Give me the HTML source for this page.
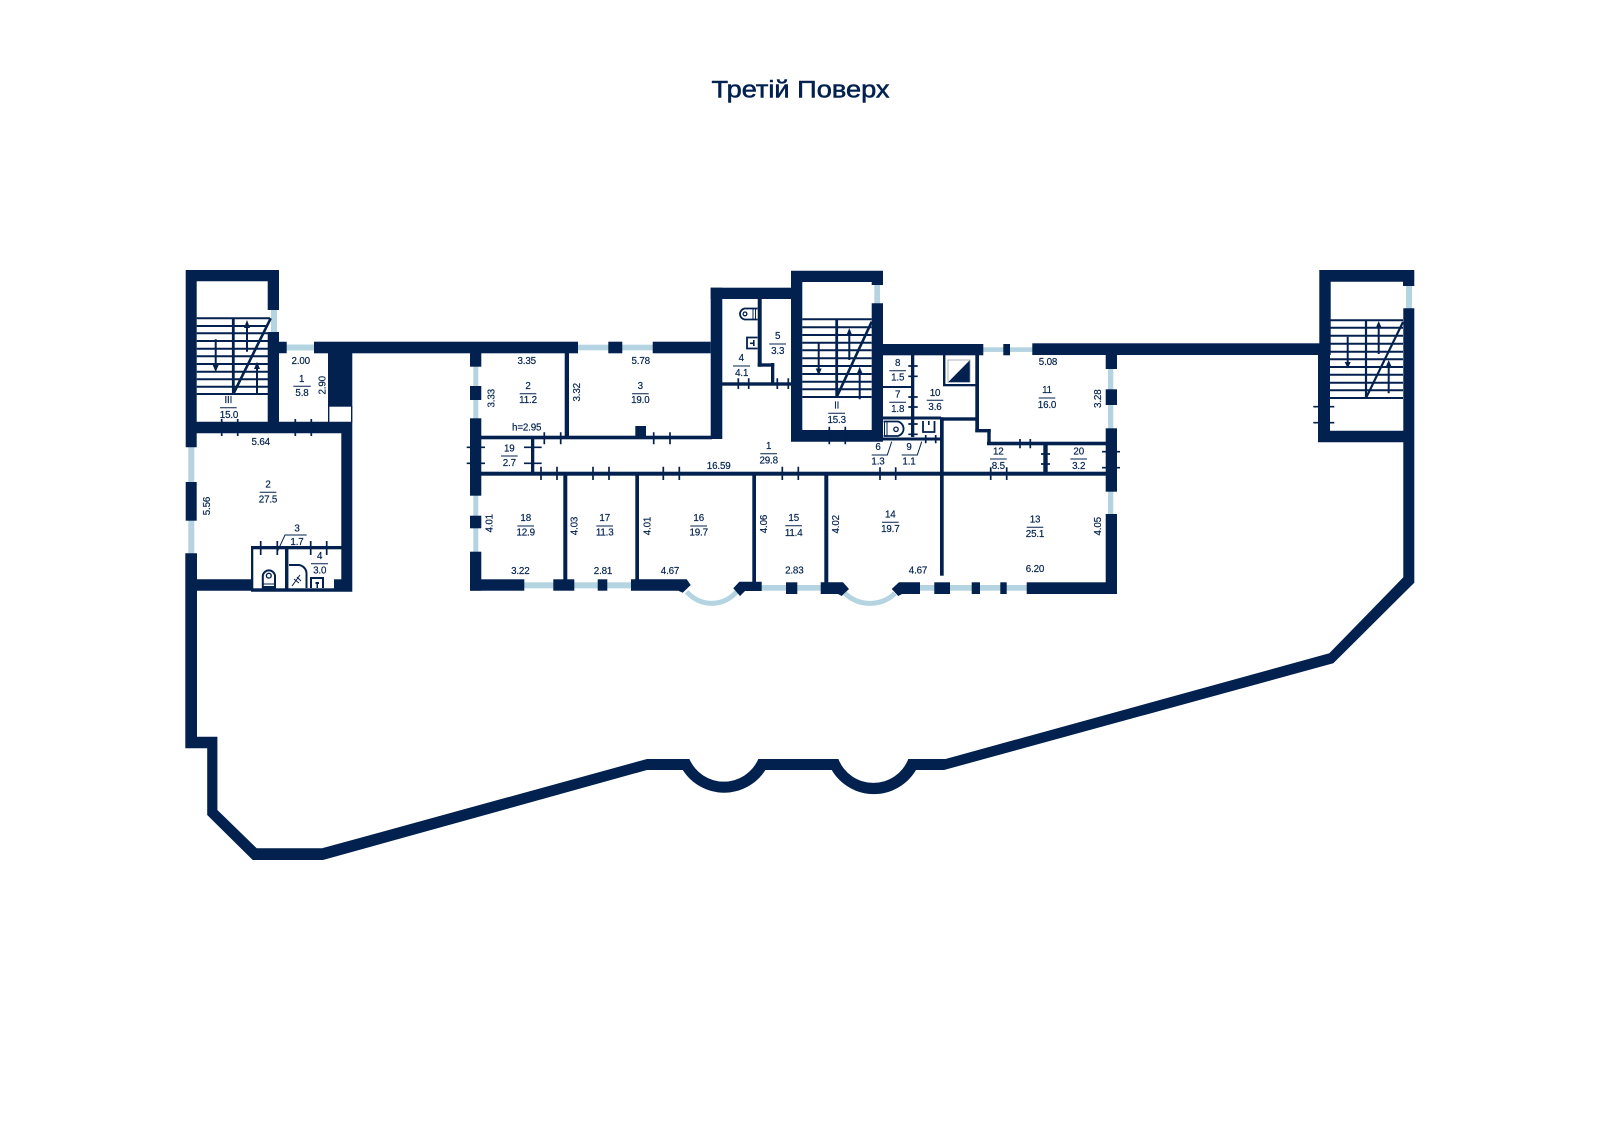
<!DOCTYPE html>
<html><head><meta charset="utf-8"><title>Третій Поверх</title>
<style>
html,body{margin:0;padding:0;background:#fff}
svg{display:block}
text{font-family:"Liberation Sans",sans-serif;font-size:9.8px;fill:#02214f;stroke:#02214f;stroke-width:.18px;text-anchor:middle;dominant-baseline:central;letter-spacing:-.15px}
.t{font-size:24px;stroke-width:.55px;dominant-baseline:alphabetic;letter-spacing:0}
</style></head><body>
<svg width="1600" height="1130" viewBox="0 0 1600 1130" xmlns="http://www.w3.org/2000/svg">
<rect width="1600" height="1130" fill="#fff"/>
<text class="t" x="800.5" y="97.3" textLength="178" lengthAdjust="spacingAndGlyphs">Третій Поверх</text>

<!-- glass -->
<g fill="#b3d4e0">
<rect x="271" y="308" width="6" height="26"/>
<rect x="285" y="344.5" width="31" height="6"/>
<rect x="188.3" y="445" width="6" height="110"/>
<rect x="473.3" y="365" width="5" height="55"/>
<rect x="473.3" y="494" width="5" height="60"/>
<rect x="577" y="344.7" width="77" height="5.6"/>
<rect x="524" y="582.3" width="108" height="6"/>
<rect x="760" y="585" width="62" height="5.7"/>
<rect x="918" y="585" width="110" height="5.7"/>
<rect x="874.3" y="284" width="5.7" height="21"/>
<rect x="982" y="347.3" width="52" height="4.6"/>
<rect x="1108" y="367" width="5.3" height="63"/>
<rect x="1108" y="490" width="5.3" height="26"/>
<rect x="1406" y="285" width="6" height="25"/>
</g>
<g fill="none" stroke="#b3d4e0" stroke-width="5">
<path d="M686.7 591.7A32.7 32.7 0 0 0 736.7 591.7"/>
<path d="M845 593.3A36 36 0 0 0 895 593.3"/>
</g>

<!-- thick walls -->
<g fill="#02214f">
<path d="M185.3 553.3V748.3H207.2V815L252.7 860H323L647 770H682.8A48.9 48.9 0 0 0 765.4 770H831.7A48.9 48.9 0 0 0 916 770H944L1333.3 663.3L1414.3 582.7V308.3H1403.3V577.3L1329.3 653.3L945.5 759H908.3A37.5 37.5 0 0 1 838.4 759H758.3A37.5 37.5 0 0 1 689.4 759H647L322 848.3H256.7L217.4 810V736.7H197V553.3Z"/>
<!-- stair III -->
<path d="M185.7 270H279V310H267.7V281.3H196.7V421.7H267.7V332H279V341.7H286.7V353.3H279V421.7H352.3V591.7H251V590.7H196V579.3H251V546H341.3V433.3H196.7V447.3H185.7Z"/>
<rect x="314" y="341.7" width="264" height="11.6"/>
<rect x="328" y="353" width="24.3" height="53.7"/>
<rect x="328" y="406" width="1.4" height="16"/>
<rect x="351" y="406" width="1.4" height="16"/>
<rect x="185.7" y="482" width="11" height="38.7"/>
<!-- left column of centre block -->
<rect x="470" y="353" width="11.3" height="13.7"/>
<rect x="470" y="386" width="11.3" height="14"/>
<rect x="470" y="418.3" width="11.3" height="77.4"/>
<rect x="470" y="515.7" width="11.3" height="12.6"/>
<rect x="470" y="551.7" width="11.3" height="39"/>
<rect x="470" y="579.3" width="54.3" height="11.4"/>
<rect x="553.3" y="579.3" width="21" height="11.4"/>
<rect x="597.7" y="579.3" width="9.6" height="11.4"/>
<polygon points="631,579.3 686.7,579.3 690.7,585 682.7,592.7 678.3,590.7 631,590.7"/>
<polygon points="739.3,581.7 761.7,581.7 761.7,591 745,591 740,596 733.3,588.3"/>
<rect x="786" y="582.3" width="11.3" height="11.7"/>
<polygon points="820.7,582.3 843,582.3 849,589 841.7,596 838,594 820.7,594"/>
<polygon points="899,582.3 920,582.3 920,594 902,594 898.3,596 891.7,589"/>
<rect x="934.3" y="582.3" width="15.7" height="11.7"/>
<rect x="971.7" y="582.3" width="8.3" height="11.7"/>
<rect x="1000.3" y="582.3" width="6.4" height="11.7"/>
<rect x="1026.7" y="582.3" width="90.3" height="11.7"/>
<rect x="608.3" y="341.7" width="14" height="11.6"/>
<rect x="652.7" y="341.7" width="58" height="11.6"/>
<rect x="710.7" y="287.7" width="11.6" height="151.3"/>
<rect x="710.7" y="287.7" width="80.3" height="11.3"/>
<rect x="635.3" y="426" width="10.7" height="11"/>
<!-- stair II -->
<path d="M791 270.7H883V285H871.7V282H802.3V430H871.7V303.3H883V441.7H791Z"/>
<rect x="883" y="344" width="100.3" height="11.3"/>
<rect x="1003.3" y="344" width="6.7" height="11.3"/>
<rect x="1032.3" y="343.3" width="288" height="11.7"/>
<rect x="1105.7" y="355" width="11.3" height="14"/>
<rect x="1105.7" y="389.3" width="11.3" height="15.7"/>
<rect x="1105.7" y="428.3" width="11.3" height="63.4"/>
<rect x="1105.7" y="514" width="11.3" height="80"/>
<!-- stair right -->
<path d="M1319.3 270H1414.3V286H1403V281.7H1330.7V355H1330V430.7H1404V442.3H1318V355H1319.3Z"/>
</g>

<!-- thin interior walls -->
<g fill="#02214f">
<rect x="564.7" y="353" width="4.3" height="84"/>
<rect x="481" y="435.7" width="231" height="3.6"/>
<rect x="531" y="439" width="3.3" height="34"/>
<rect x="481" y="471.7" width="625" height="4"/>
<rect x="563.3" y="475" width="4" height="105"/>
<rect x="635.3" y="475" width="3.7" height="105"/>
<rect x="752.3" y="475" width="3.7" height="107"/>
<rect x="824.3" y="475" width="4" height="108"/>
<rect x="940" y="417.3" width="3.7" height="158.4"/>
<rect x="757.7" y="299" width="4" height="67.7"/>
<rect x="757.7" y="363.3" width="16.6" height="3.4"/>
<rect x="771" y="363" width="3.3" height="20"/>
<rect x="722" y="382.3" width="69" height="3.4"/>
<rect x="911" y="355" width="3.3" height="82"/>
<rect x="883" y="386" width="28" height="2"/>
<rect x="883" y="416.5" width="58" height="3"/>
<rect x="883" y="437.5" width="59" height="3"/>
<rect x="940" y="417.3" width="37" height="3.4"/>
<rect x="975.3" y="355" width="3.7" height="77"/>
<rect x="975.3" y="429" width="15.4" height="3.4"/>
<rect x="987.3" y="429" width="3.4" height="16"/>
<rect x="987" y="441.7" width="119" height="3.6"/>
<rect x="1043.3" y="445" width="4.4" height="27"/>
<rect x="943" y="355" width="2.4" height="30"/>
<rect x="943" y="384" width="34" height="2.3"/>
<!-- wc block left -->
<rect x="253.3" y="549.3" width="31.7" height="39" fill="#fff"/>
<rect x="288.3" y="549.3" width="53" height="39" fill="#fff"/>
<rect x="285" y="549" width="3.3" height="40"/>
<rect x="334" y="579.3" width="8" height="9.5"/>
</g>

<!-- stairs and ticks -->
<g fill="none" stroke="#02214f" stroke-width="2">
<path d="M196.7 318.3H270M196.7 326H268M196.7 333.3H268M196.7 341H268M196.7 348.7H268M196.7 356.3H268M196.7 364H268M196.7 371.7H268M196.7 379.3H268M196.7 386.7H268M196.7 394H268"/>
<path d="M802.3 319.3H871.7M802.3 327.3H871.7M802.3 335H871.7M802.3 342.7H871.7M802.3 350.3H871.7M802.3 358.3H871.7M802.3 366H871.7M802.3 374H871.7M802.3 381.7H871.7M802.3 389.3H871.7M802.3 397H871.7"/>
<path d="M1330 320.3H1403M1330 327.7H1403M1330 335.7H1403M1330 343.7H1403M1330 351.7H1403M1330 359.3H1403M1330 367H1403M1330 374.7H1403M1330 382.7H1403M1330 390.3H1403M1330 398H1403"/>
<path d="M233.3 318V394" stroke-width="2.8"/>
<path d="M233.3 394L270.7 318.3" stroke-width="2.6"/>
<path d="M836.7 319V397" stroke-width="2.8"/>
<path d="M836.7 397L871.7 321.7" stroke-width="2.6"/>
<path d="M1366 320V398" stroke-width="2.2"/>
<path d="M1366 398L1403 322" stroke-width="2.2"/>
<path d="M215.7 339.3V368M247 324V351.7M257 365V394"/>
<path d="M818.7 343.3V371M849.3 332V360M859.7 370V399.3"/>
<path d="M1347.7 336.7V365M1378.7 325V354M1388.7 364V393.3"/>
<!-- ticks -->
<path stroke-width="1.7" d="M221.7 419V436M237.7 419V436M295.3 419V436M311.3 419V436
M260.7 541V555M277.3 541V555M310.7 541V555M326.7 541V555
M466.7 447.3H485M466.7 463.3H485M524 447.3H541.7M524 463.3H541.7
M544.3 432.3V444.3M560.7 432.3V444.3M653.7 432.3V444.3M670 432.3V444.3
M541 466.7V480M557 466.7V480M593 466.7V480M609 466.7V480M663.3 466.7V480M679.3 466.7V480M782.3 466.7V480M798.3 466.7V480M880 467.3V480M895.7 467.3V480M990.7 467.3V480M1006.7 467.3V480
M738.3 378.3V389M748.7 378.3V389M777.3 378.3V389M788.3 378.3V389
M829.3 426.7V444.3M845.3 426.7V444.3
M908.3 366H917.7M908.3 376.3H917.7M908.3 397H917.7M908.3 407H917.7M908.3 424H917.7M908.3 434.3H917.7
M925.7 435V443.3M935.7 435V443.3M1020 439V448.3M1030.3 439V448.3
M1041 454H1050M1041 464H1050M1102 451.7H1120M1102 467.7H1120
M1313.3 406.7H1334.3M1313.3 422.7H1334.3"/>
<!-- leaders -->
<path stroke-width="1" d="M306.7 535H285L277.3 551.7M871.7 455H887.3L891.7 441.7M901.7 455H917.3L921.7 441.7"/>
<!-- label bars -->
<path stroke-width="1" d="M220 407.7H236.7M293.3 386.3H310.7M259.7 492.3H276.3M311 563.7H328M519.7 393.7H536.3M632 393.7H648.7M501 456H517.7M760.3 453.7H777M517.3 526H534M596.3 526H613M690.3 526H707M733 366H750M769.3 344H786M828.3 413.3H845M889.3 370.7H906M889.3 402.3H906M926.7 400.3H943.3M1038.7 398H1055.3M990 459H1006.7M1070.3 459H1087M882 522.3H898.7M785.3 525.7H802M1026.7 527.3H1043.3"/>
<!-- fixtures -->
<path stroke-width="2" d="M262.8 588V575.5A6.2 6.2 0 0 1 275 575.5V588Z"/>
<circle cx="268.8" cy="575.7" r="2.4" stroke-width="1.4"/>
<path stroke-width="1.1" d="M263 584H275M263 586.5H275"/>
<path stroke-width="2" d="M289 565H298A8.5 8.5 0 0 1 306.5 573.5V588"/>
<path stroke-width="1" d="M292 586L300 575M294 579L299 583M297 577L301 581"/>
<path stroke-width="2" d="M311 588V578H323V588"/>
<path stroke-width="1.8" d="M757.5 308.5H744.5A5.6 5.6 0 0 0 744.5 319.5H757.5"/>
<circle cx="745" cy="313.9" r="1.9" stroke-width="1.3"/>
<path stroke-width="1" d="M753 309V319M755.5 309V319"/>
<path stroke-width="1.8" d="M757.5 337.5H747V348.5H757.5"/>
<path stroke-width="1.8" d="M883.5 421.5H898A7.5 7.5 0 0 1 898 436H883.5"/>
<circle cx="896" cy="429.3" r="2.2" stroke-width="1.3"/>
<path stroke-width="1" d="M884.5 421V436M887 421V436"/>
<path stroke-width="1.8" d="M923 421V432H934.5V421"/>
</g>
<g fill="#02214f">
<polygon points="212.7,365 218.7,365 215.7,372"/>
<polygon points="244,328 250,328 247,320"/>
<polygon points="254,369 260,369 257,361.7"/>
<polygon points="815.7,368.5 821.7,368.5 818.7,375.5"/>
<polygon points="846.3,335.5 852.3,335.5 849.3,328"/>
<polygon points="856.7,374 862.7,374 859.7,366.7"/>
<polygon points="1344.7,362 1350.7,362 1347.7,368.5"/>
<polygon points="1375.7,328 1381.7,328 1378.7,321"/>
<polygon points="1385.7,367 1391.7,367 1388.7,360"/>
<rect x="315.5" y="582" width="3.5" height="2"/><rect x="316.5" y="583" width="1.5" height="5"/>
<rect x="750" y="342.5" width="4" height="1.6"/><rect x="753" y="340" width="1.6" height="6"/>
<rect x="928" y="421" width="1.6" height="4"/>
<polygon points="970,360 970,382.3 948,382.3"/>
</g>
<rect x="948" y="360" width="22" height="22.3" fill="none" stroke="#8a97a8" stroke-width=".7"/>

<!-- labels -->
<g>
<text x="228.3" y="400.7">III</text><text x="229" y="415.7">15.0</text>
<text x="300.7" y="361.3">2.00</text>
<text x="301.7" y="379.3">1</text><text x="302" y="393.7">5.8</text>
<text transform="rotate(-90 323 385.3)" x="323" y="385.3">2.90</text>
<text x="260.7" y="442.7">5.64</text>
<text x="268" y="485">2</text><text x="268" y="500">27.5</text>
<text transform="rotate(-90 207.7 506)" x="207.7" y="506">5.56</text>
<text x="297" y="529">3</text><text x="297" y="542.3">1.7</text>
<text x="319.7" y="556.7">4</text><text x="319.7" y="571">3.0</text>
<text transform="rotate(-90 492 398.3)" x="492" y="398.3">3.33</text>
<text transform="rotate(-90 490 523.3)" x="490" y="523.3">4.01</text>
<text x="526.7" y="361.3">3.35</text>
<text x="640.7" y="361.3">5.78</text>
<text x="528" y="386.3">2</text><text x="528" y="400.7">11.2</text>
<text x="640.3" y="386.3">3</text><text x="640.3" y="400.7">19.0</text>
<text transform="rotate(-90 577.7 392.3)" x="577.7" y="392.3">3.32</text>
<text x="526.7" y="428">h=2.95</text>
<text x="509.3" y="449">19</text><text x="509.3" y="463.7">2.7</text>
<text x="768.7" y="446.7">1</text><text x="768.7" y="461">29.8</text>
<text x="718.7" y="466.7">16.59</text>
<text x="525.7" y="518.7">18</text><text x="525.7" y="533">12.9</text>
<text transform="rotate(-90 575 526)" x="575" y="526">4.03</text>
<text x="604.7" y="518.7">17</text><text x="604.7" y="533">11.3</text>
<text transform="rotate(-90 648 526)" x="648" y="526">4.01</text>
<text x="698.7" y="518.7">16</text><text x="698.7" y="533">19.7</text>
<text transform="rotate(-90 764.3 524)" x="764.3" y="524">4.06</text>
<text x="520.3" y="571.3">3.22</text>
<text x="603" y="571.3">2.81</text>
<text x="670" y="571.3">4.67</text>
<text x="794.3" y="571">2.83</text>
<text x="741.3" y="358.7">4</text><text x="741.7" y="373.3">4.1</text>
<text x="777.7" y="336.7">5</text><text x="777.7" y="351.3">3.3</text>
<text x="836.7" y="406">II</text><text x="836.7" y="420.7">15.3</text>
<text x="897.7" y="363.7">8</text><text x="897.7" y="378">1.5</text>
<text x="897.7" y="395">7</text><text x="897.7" y="409.7">1.8</text>
<text x="935" y="393.3">10</text><text x="935" y="407.7">3.6</text>
<text x="1047" y="390.7">11</text><text x="1047" y="405.3">16.0</text>
<text x="1048" y="362.7">5.08</text>
<text transform="rotate(-90 1098.3 398.7)" x="1098.3" y="398.7">3.28</text>
<text x="878" y="447.7">6</text><text x="878" y="462">1.3</text>
<text x="909" y="447.7">9</text><text x="909" y="462">1.1</text>
<text x="998.3" y="452">12</text><text x="998.3" y="466.7">8.5</text>
<text x="1078.7" y="452">20</text><text x="1078.7" y="466.7">3.2</text>
<text x="890.3" y="515">14</text><text x="890.3" y="529.7">19.7</text>
<text x="793.7" y="518.3">15</text><text x="793.7" y="533.3">11.4</text>
<text x="1035" y="520">13</text><text x="1035" y="534.7">25.1</text>
<text transform="rotate(-90 836.7 524.3)" x="836.7" y="524.3">4.02</text>
<text transform="rotate(-90 1098.3 526.3)" x="1098.3" y="526.3">4.05</text>
<text x="918" y="571">4.67</text>
<text x="1035" y="569.3">6.20</text>
</g>
</svg>
</body></html>
